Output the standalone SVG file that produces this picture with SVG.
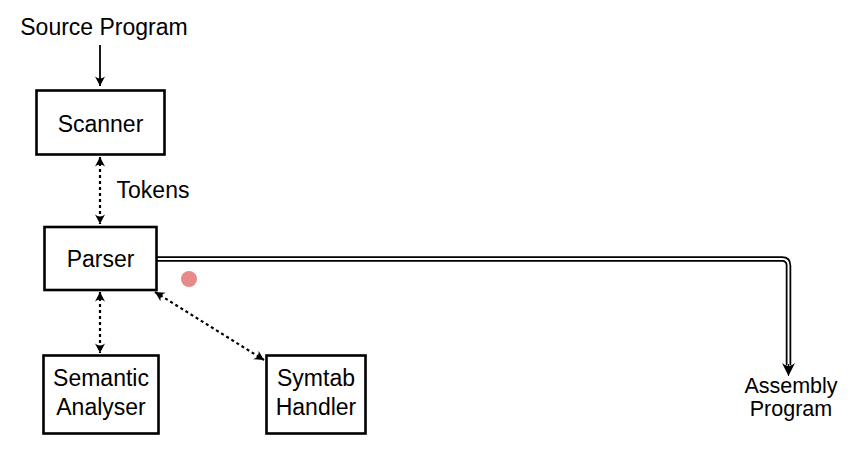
<svg xmlns="http://www.w3.org/2000/svg" width="865" height="461" viewBox="0 0 865 461">
<style>
text{font-family:"Liberation Sans","DejaVu Sans",sans-serif;font-size:23px;fill:#000;text-anchor:middle}
.sm{font-size:21.5px}
.box{fill:#fff;stroke:#000;stroke-width:2.6}
.solid{fill:none;stroke:#000;stroke-width:1.8}
.dot{fill:none;stroke:#000;stroke-width:2.2;stroke-dasharray:3 3}
</style>
<defs>
<marker id="ah" viewBox="-12 -7 14 14" refX="0" refY="0" markerWidth="14" markerHeight="14" markerUnits="userSpaceOnUse" orient="auto-start-reverse">
<path d="M0,0 L-9.5,-5 Q-5.5,0 -9.5,5 Z" fill="#000"/>
</marker>
<marker id="big" viewBox="-16 -9 18 18" refX="0" refY="0" markerWidth="18" markerHeight="18" markerUnits="userSpaceOnUse" orient="auto">
<path d="M0,0 L-13,-6.5 Q-7,0 -13,6.5 Z" fill="#000"/>
</marker>
</defs>
<g id="connectors">
<line class="solid" x1="100" y1="45" x2="100" y2="86" marker-end="url(#ah)"/>
<line class="dot" x1="100" y1="157" x2="100" y2="224" marker-start="url(#ah)" marker-end="url(#ah)"/>
<line class="dot" x1="100" y1="292" x2="100" y2="353" marker-start="url(#ah)" marker-end="url(#ah)"/>
<line class="dot" x1="155" y1="292" x2="264" y2="360" marker-start="url(#ah)" marker-end="url(#ah)"/>
<path d="M157,259 H782 Q788.5,259 788.5,265.5 V365" fill="none" stroke="#000" stroke-width="5.5"/>
<path d="M157,259 H782 Q788.5,259 788.5,265.5 V366" fill="none" stroke="#fff" stroke-width="2"/>
<line x1="788.5" y1="364" x2="788.5" y2="376" stroke="#000" stroke-width="1" marker-end="url(#big)"/>
<text x="153" y="198">Tokens</text>
</g>
<g id="source"><text x="104" y="35">Source Program</text></g>
<g id="scanner"><rect class="box" x="36.5" y="90.5" width="128" height="64"/><text x="100.5" y="132">Scanner</text></g>
<g id="parser"><rect class="box" x="44.5" y="227" width="112" height="63"/><text x="100.5" y="267">Parser</text></g>
<g id="semantic"><rect class="box" x="43.5" y="355.5" width="115" height="78"/><text x="101" y="386">Semantic</text><text x="101" y="415">Analyser</text></g>
<g id="symtab"><rect class="box" x="266.5" y="355.5" width="99" height="78"/><text x="316" y="386">Symtab</text><text x="316" y="415">Handler</text></g>
<g id="assembly"><text class="sm" x="791" y="393">Assembly</text><text class="sm" x="791" y="416">Program</text></g>
<circle cx="189" cy="279" r="8" fill="#e88a8a"/>
</svg>
